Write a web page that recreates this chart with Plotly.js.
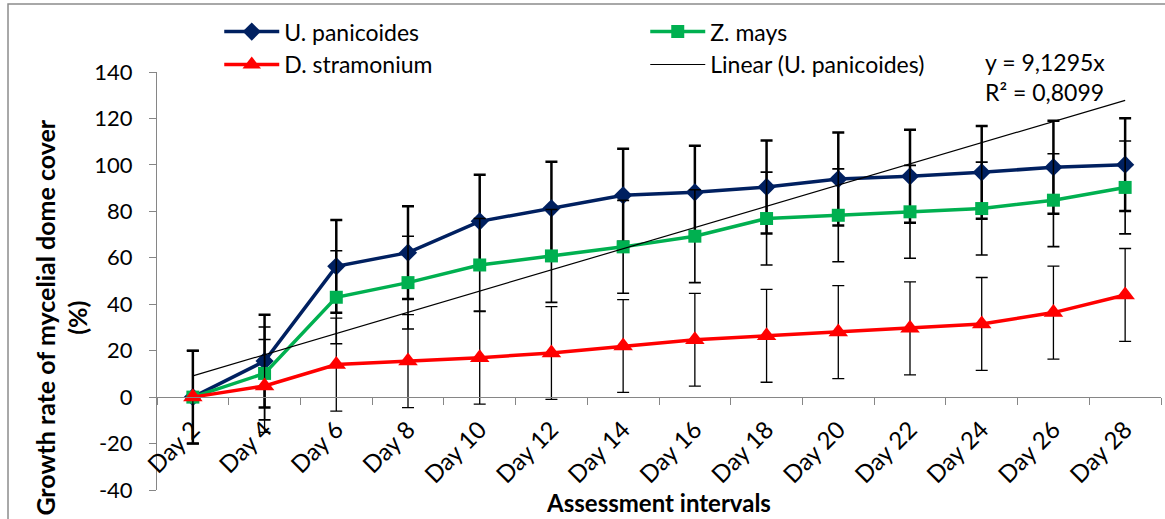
<!DOCTYPE html>
<html>
<head>
<meta charset="utf-8">
<script src="https://cdn.plot.ly/plotly-3.0.1.min.js"></script>
<style>
  html, body { margin: 0; padding: 0; background: #ffffff; }
  #chart { width: 1165px; height: 519px; }
</style>
</head>
<body>
<div id="chart"></div>
<script>
// ---- DATA ----
const categories = ['Day 2', 'Day 4', 'Day 6', 'Day 8', 'Day 10', 'Day 12', 'Day 14',
                    'Day 16', 'Day 18', 'Day 20', 'Day 22', 'Day 24', 'Day 26', 'Day 28'];
const uPanicoides = [0, 15.5, 56.3, 62.2, 75.7, 81.3, 86.9, 88.2, 90.5, 93.9, 95.1, 96.8, 99.0, 100.1];
const zMays       = [0, 10.2, 43.0, 49.3, 56.9, 60.8, 64.7, 69.3, 76.9, 78.3, 79.8, 81.2, 84.8, 90.3];
const dStramonium = [0, 4.8, 14.0, 15.5, 17.0, 19.0, 22.0, 24.7, 26.4, 28.0, 29.6, 31.5, 36.4, 44.0];
const errUPanicoides = [20, 20, 20, 20, 20, 20, 20, 20, 20, 20, 20, 20, 20, 20];
const errZMays       = [20, 20, 20, 20, 20, 20, 20, 20, 20, 20, 20, 20, 20, 20];
const errDStramonium = [20, 20, 20, 20, 20, 20, 20, 20, 20, 20, 20, 20, 20, 20];
// Linear trendline for U. panicoides as shown on chart (y = 9,1295x)
const linearUPanicoides = [9.13, 18.26, 27.39, 36.52, 45.65, 54.78, 63.91, 73.04,
                           82.17, 91.30, 100.42, 109.55, 118.68, 127.81];
const yTickValues = [-40, -20, 0, 20, 40, 60, 80, 100, 120, 140];
const yTickLabels = ['-40', '-20', '0', '20', '40', '60', '80', '100', '120', '140'];
const seriesNames = ['U. panicoides', 'Z. mays', 'D. stramonium', 'Linear (U. panicoides)'];
const trendText = 'y = 9,1295x<br>R² = 0,8099';
const xTitle = 'Assessment intervals';
const yTitle = 'Growth rate of mycelial dome cover<br>(%)';

// ---- CHART ----
const FONT = 'Lato, "Open Sans", "DejaVu Sans", sans-serif';

const traces = [
  {
    x: categories, y: uPanicoides, name: seriesNames[0], type: 'scatter', mode: 'lines+markers',
    line: { color: '#002060', width: 3.5 },
    marker: { symbol: 'diamond', size: 14, color: '#002060' },
    error_y: { type: 'data', array: errUPanicoides, visible: true, color: '#000000', thickness: 2.5, width: 6 }
  },
  {
    x: categories, y: zMays, name: seriesNames[1], type: 'scatter', mode: 'lines+markers',
    line: { color: '#00B050', width: 3.5 },
    marker: { symbol: 'square', size: 13, color: '#00B050' },
    error_y: { type: 'data', array: errZMays, visible: true, color: '#000000', thickness: 1.6, width: 6 }
  },
  {
    x: categories, y: dStramonium, name: seriesNames[2], type: 'scatter', mode: 'lines+markers',
    line: { color: '#FF0000', width: 3.5 },
    marker: { symbol: 'triangle-up', size: 17, color: '#FF0000' },
    error_y: { type: 'data', array: errDStramonium, visible: true, color: '#000000', thickness: 1.3, width: 6 }
  },
  {
    x: categories, y: linearUPanicoides, name: seriesNames[3], type: 'scatter', mode: 'lines',
    line: { color: '#000000', width: 1.2 }
  }
];

const layout = {
  width: 1165, height: 519,
  margin: { l: 157, r: 4, t: 72, b: 29, pad: 0 },
  paper_bgcolor: '#ffffff', plot_bgcolor: '#ffffff',
  font: { family: FONT, size: 21, color: '#000000' },
  showlegend: true,
  legend: {
    orientation: 'h', x: 0.062, xanchor: 'left', y: 1.148, yanchor: 'top',
    entrywidth: 356, entrywidthmode: 'pixels', itemwidth: 55,
    font: { family: FONT, size: 23, color: '#000000' },
    bgcolor: 'rgba(0,0,0,0)', tracegroupgap: 0
  },
  xaxis: {
    type: 'category', range: [-0.5, 13.5],
    anchor: 'free', position: 40 / 180,
    showline: true, linecolor: '#868686', linewidth: 1,
    ticks: 'outside', tickson: 'boundaries', ticklen: 7, tickcolor: '#868686',
    ticklabelstandoff: 8,
    tickangle: -45, tickfont: { family: FONT, size: 24, color: '#000000' },
    showgrid: false, zeroline: false, automargin: false,
    title: { text: '<b>' + xTitle + '</b>', font: { family: FONT, size: 24, color: '#000000' }, standoff: 4 }
  },
  yaxis: {
    range: [-40, 140], tickmode: 'array', tickvals: yTickValues, ticktext: yTickLabels,
    showline: true, linecolor: '#868686', linewidth: 1,
    ticks: 'outside', ticklen: 7, tickcolor: '#868686', ticklabelstandoff: 12,
    tickfont: { family: FONT, size: 22, color: '#000000' },
    showgrid: false, zeroline: false, automargin: false
  },
  annotations: [
    {
      text: trendText, xref: 'paper', yref: 'paper', x: 0.8227, y: 0.987,
      xanchor: 'left', yanchor: 'middle', align: 'left', showarrow: false,
      font: { family: FONT, size: 23, color: '#000000' }
    },
    {
      text: '<b>' + yTitle + '</b>', xref: 'paper', yref: 'paper', x: -0.095, y: 0.4115,
      xanchor: 'center', yanchor: 'middle', align: 'center', textangle: -90, showarrow: false,
      font: { family: FONT, size: 25, color: '#000000' }
    }
  ],
  shapes: [
    {
      type: 'rect', xref: 'paper', yref: 'paper',
      x0: -0.1484, x1: 1.2, y0: -0.3, y1: 1.1627,
      line: { color: '#8c8c8c', width: 1.5 }, fillcolor: 'rgba(0,0,0,0)', layer: 'below'
    }
  ]
};

Plotly.newPlot('chart', traces, layout, { displayModeBar: false, responsive: false });
</script>
</body>
</html>
